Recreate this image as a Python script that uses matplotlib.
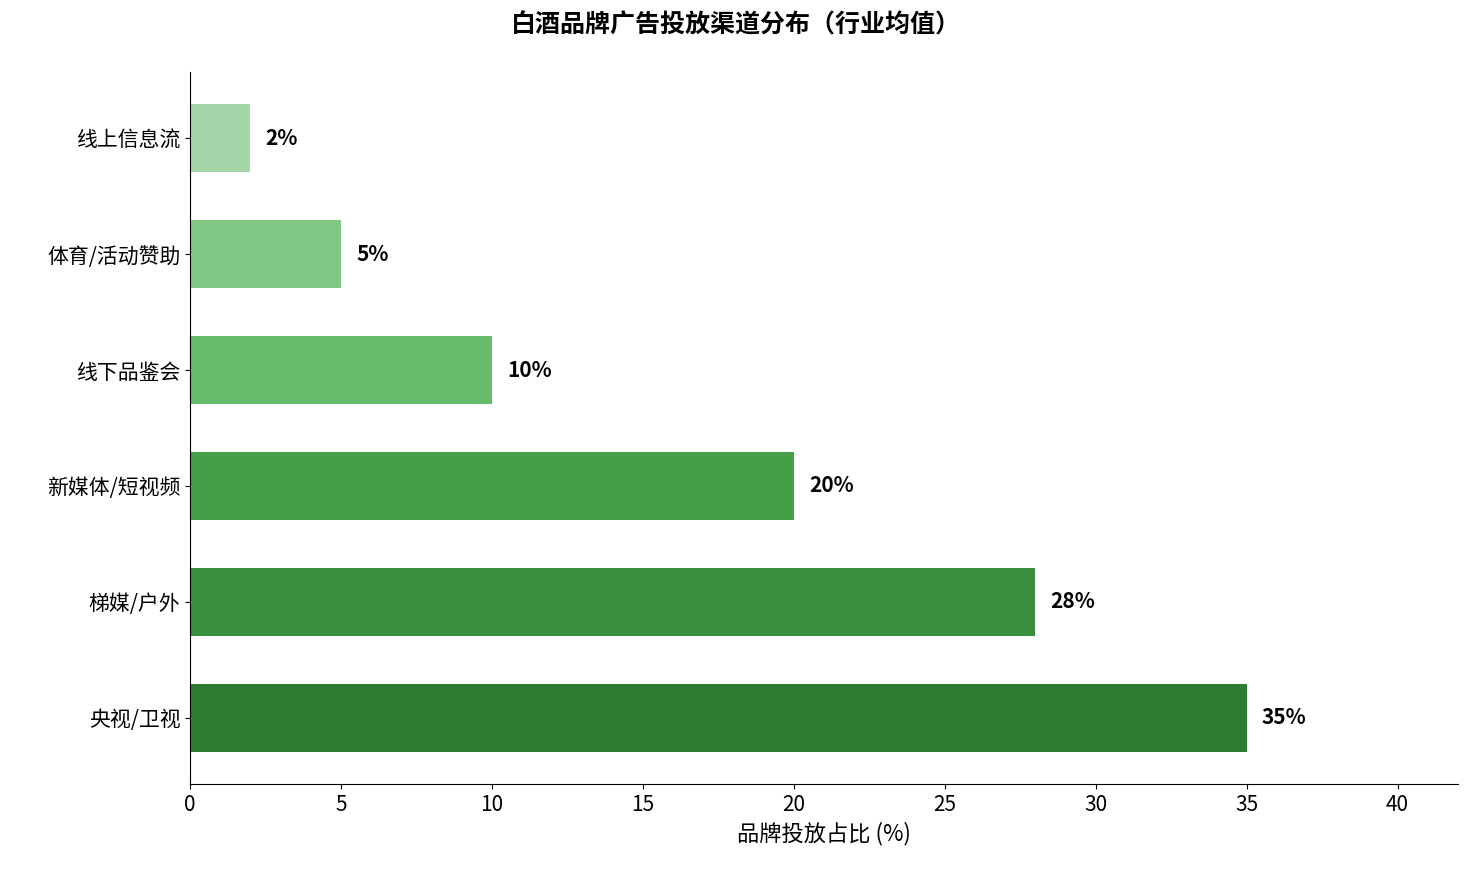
import matplotlib
matplotlib.use("Agg")
import matplotlib.pyplot as plt

plt.rcParams['font.family'] = ['Noto Sans CJK SC', 'DejaVu Sans']

categories = ["央视/卫视", "梯媒/户外", "新媒体/短视频", "线下品鉴会", "体育/活动赞助", "线上信息流"]
values = [35, 28, 20, 10, 5, 2]
colors = ["#2e7d32", "#388e3c", "#43a047", "#66bb6a", "#81c784", "#a5d6a7"]

fig = plt.figure(figsize=(14.72, 8.76), dpi=100)
ax = fig.add_axes([190/1472, 1-784/876, (1458-190)/1472, (784-72)/876])
bars = ax.barh(categories, values, height=0.58, color=colors)
for b, v in zip(bars, values):
    ax.text(v + 0.5, b.get_y() + b.get_height()/2, f"{v}%", va="center", ha="left",
            fontsize=15, fontweight="bold")
ax.set_xlim(0, 42)
ax.set_xticks(range(0, 41, 5))
ax.tick_params(labelsize=15)
ax.set_xlabel("品牌投放占比 (%)", fontsize=16)
ax.spines['top'].set_visible(False)
ax.spines['right'].set_visible(False)
fig.suptitle("白酒品牌广告投放渠道分布（行业均值）", fontsize=18, fontweight="bold", y=0.985)
fig.savefig("out.png", dpi=100)
